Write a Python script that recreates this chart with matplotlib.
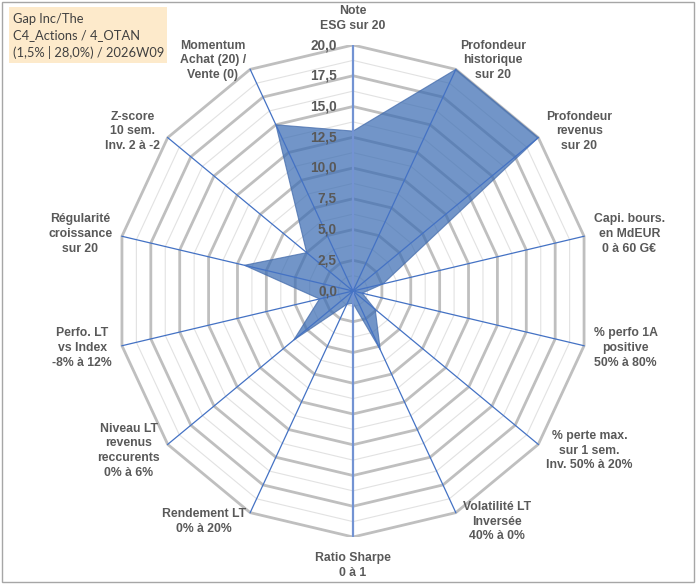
import numpy as np
import matplotlib
matplotlib.use("Agg")
import matplotlib.pyplot as plt
from matplotlib.patches import Rectangle, Polygon

categories = [
    "Note\nESG sur 20",
    "Profondeur\nhistorique\nsur 20",
    "Profondeur\nrevenus\nsur 20",
    "Capi. bours.\nen MdEUR\n0 à 60 G€",
    "% perfo 1A\npositive\n50% à 80%",
    "% perte max.\nsur 1 sem.\nInv. 50% à 20%",
    "Volatilité LT\nInversée\n40% à 0%",
    "Ratio Sharpe\n0 à 1",
    "Rendement LT\n0% à 20%",
    "Niveau LT\nrevenus\nreccurents\n0% à 6%",
    "Perfo. LT\nvs Index\n-8% à 12%",
    "Régularité\ncroissance\nsur 20",
    "Z-score\n10 sem.\nInv. 2 à -2",
    "Momentum\nAchat (20) /\nVente (0)",
]
values = [13.0, 20.0, 20.0, 2.6, 0.8, 2.4, 5.3, 1.0, 1.2, 6.4, 2.9, 9.4, 5.0, 15.0]
ticks = [0.0, 2.5, 5.0, 7.5, 10.0, 12.5, 15.0, 17.5, 20.0]
title_lines = ["Gap Inc/The", "C4_Actions / 4_OTAN", "(1,5% | 28,0%) / 2026W09"]

RMAX = 20.0
W, H = 700, 587
DPI = 100
fig = plt.figure(figsize=(W / DPI, H / DPI), dpi=DPI)
fig.patch.set_facecolor("white")

# axes placement (pixels): centre (353, 291), rx 237, ry 246
cx, cy, rx, ry = 353, 291, 237, 246
ax = fig.add_axes([(cx - rx) / W, (H - (cy + ry)) / H, 2 * rx / W, 2 * ry / H])
ax.set_xlim(-RMAX, RMAX)
ax.set_ylim(-RMAX, RMAX)
ax.set_aspect("auto")
ax.axis("off")

n = len(categories)
theta = np.arange(n) * 2 * np.pi / n
sx, sy = np.sin(theta), np.cos(theta)

# grid polygons
minor = np.arange(1.25, RMAX, 2.5)
for r in minor:
    ax.add_patch(Polygon(np.c_[r * sx, r * sy], closed=True, fill=False,
                         edgecolor="#E2E2E2", lw=0.8, zorder=1))
for r in ticks[1:]:
    ax.add_patch(Polygon(np.c_[r * sx, r * sy], closed=True, fill=False,
                         edgecolor="#BFBFBF", lw=2.0, zorder=1.5))

# data polygon
vals = np.array(values)
poly = Polygon(np.c_[vals * sx, vals * sy], closed=True,
               facecolor="#3C6DB3", alpha=0.72, edgecolor="#4169AA", lw=0.8, zorder=2)
ax.add_patch(poly)

# spokes
for i in range(n):
    if i in (0, n // 2):
        ax.plot([0, RMAX * sx[i]], [0, RMAX * sy[i]], color="#7393D3", lw=1.6, zorder=3)
    else:
        ax.plot([0, RMAX * sx[i]], [0, RMAX * sy[i]], color="#4472C4", lw=0.9, zorder=3)

# radial tick labels
tx = -16 / rx * RMAX
for t in ticks:
    ax.text(tx, t, f"{t:.1f}".replace(".", ","), ha="right", va="center",
            fontsize=9.8, fontweight="bold", color="#595959",
            family="Liberation Sans", zorder=4)

# category labels
gap_px = 10
for i, lab in enumerate(categories):
    s, c = sx[i], sy[i]
    if abs(s) < 0.05:
        ha = "center"
        va = "bottom" if c > 0 else "top"
        off = (0, 13 if c > 0 else -15)
    else:
        ha = "left" if s > 0 else "right"
        va = "center"
        g = gap_px + (6 if (c < -0.8 and s > 0) else 0)
        off = (g * s, gap_px * c)
    off_pt = (off[0] * 72 / DPI, off[1] * 72 / DPI)
    ax.annotate(lab, xy=(RMAX * s, RMAX * c), xytext=off_pt, textcoords="offset points",
                ha=ha, va=va, multialignment="center", fontsize=8.8, fontweight="bold",
                color="#595959", family="Liberation Sans", linespacing=1.3,
                annotation_clip=False, zorder=4)

# title box
fig.patches.append(Rectangle((9 / W, 1 - 63 / H), (167 - 9) / W, (63 - 7) / H,
                             transform=fig.transFigure, facecolor="#FDEACB",
                             edgecolor="none", zorder=5))
fig.text(13 / W, 1 - 36 / H, "\n".join(title_lines), ha="left", va="center",
         fontsize=9.3, color="#404040", family="Lato", linespacing=1.42, zorder=6)

# outer frame
fig.patches.append(Rectangle((2 / W, 1 - 582 / H), (694 - 2) / W, (582 - 2) / H,
                             transform=fig.transFigure, fill=False,
                             edgecolor="#A6A6A6", lw=1.0, zorder=7))

fig.savefig("out.png", dpi=DPI)
